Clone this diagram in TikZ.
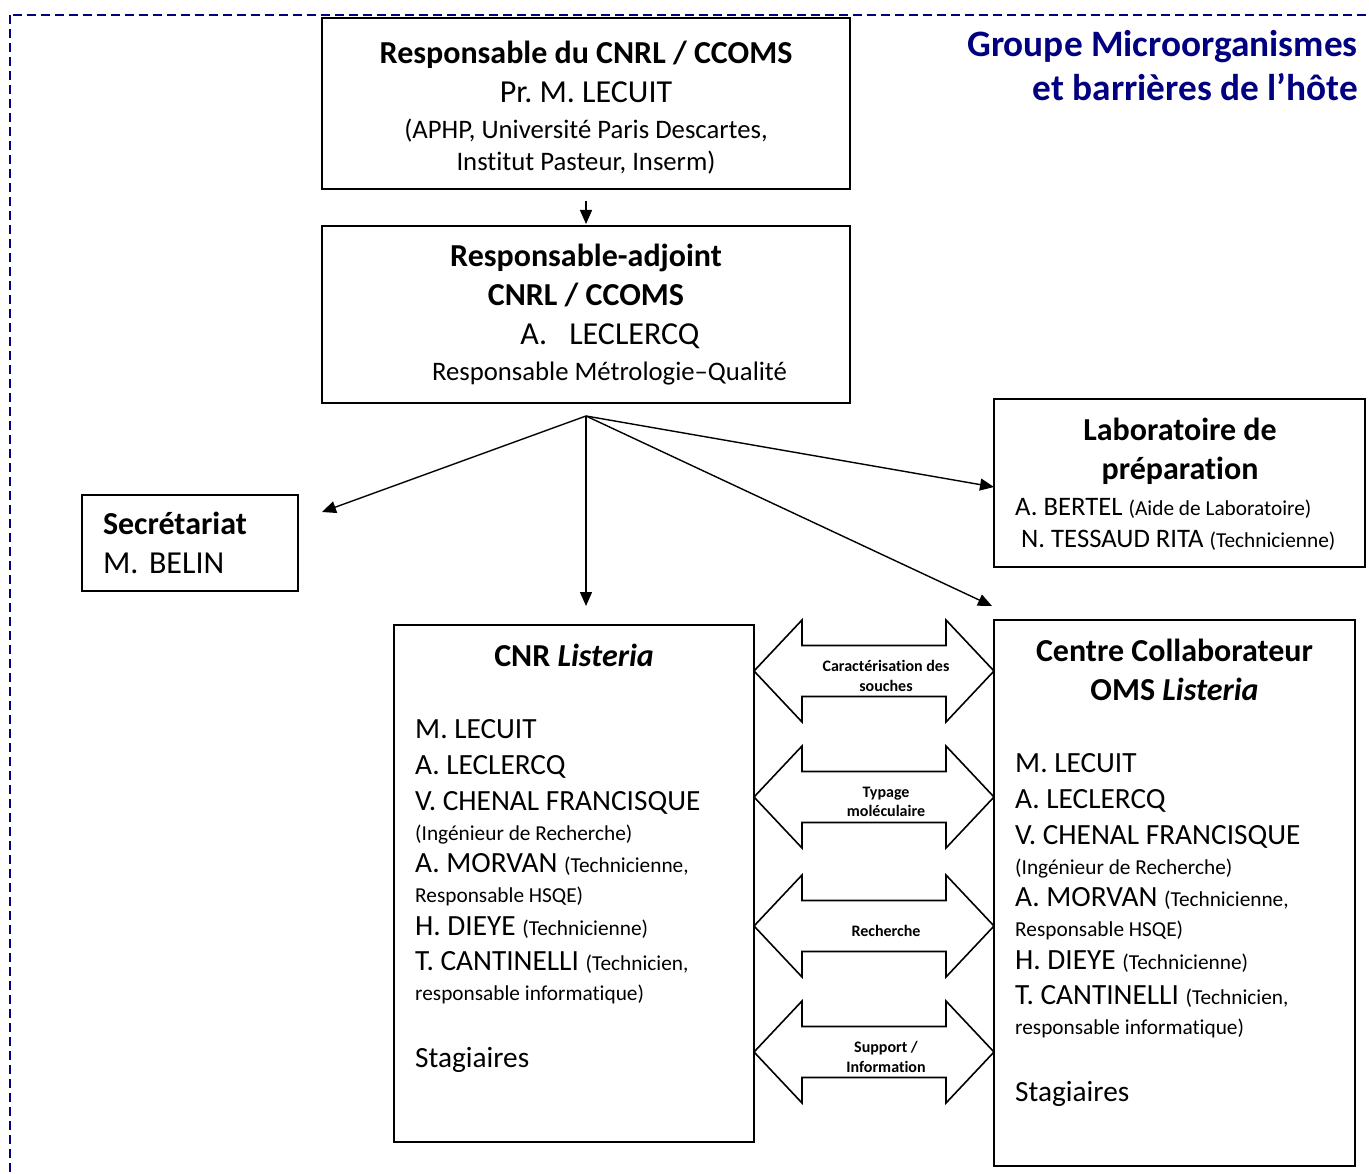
\documentclass[tikz,border=0pt]{standalone}
\usepackage{fontspec}
\setmainfont{Carlito}[Ligatures=NoCommon]
\frenchspacing
\usepackage{tikz}
\usetikzlibrary{arrows.meta}

\definecolor{navyblue}{RGB}{0,0,128}
\newcommand{\fstitle}{\fontsize{37.3}{44}\selectfont}
\newcommand{\fsbig}{\fontsize{32}{39}\selectfont}
\newcommand{\fsmid}{\fontsize{26.7}{32}\selectfont}
\newcommand{\fsname}{\fontsize{29.3}{33}\selectfont}
\newcommand{\fsnote}{\fontsize{21.3}{26}\selectfont}
\newcommand{\fstag}{\fontsize{16}{19.5}\selectfont}

\newcommand{\teamlist}{M. LECUIT\\[3pt]
A. LECLERCQ\\[3pt]
V. CHENAL FRANCISQUE\\[-3pt]
{\fsnote(Ingénieur de Recherche)}\\[-1pt]
A. MORVAN {\fsnote(Technicienne,}\\[-3pt]
{\fsnote Responsable HSQE)}\\
H. DIEYE {\fsnote(Technicienne)}\\[2pt]
T. CANTINELLI {\fsnote(Technicien,}\\[-3pt]
{\fsnote responsable informatique)}\\[34pt]
Stagiaires}

\newcommand{\twoway}[3]{%
\draw[blockarr] (cnr.east |- 0,#1) -- ++(48,-51) -- ++(0,25.5) -- ++(144,0) -- ++(0,-25.5)
  -- (cc.west |- 0,#1) -- ++(-48,51) -- ++(0,-25.5) -- ++(-144,0) -- ++(0,25.5) -- cycle;
\node[tag] (#2) at (886,#1+5) {#3};}

\begin{document}
\begin{tikzpicture}[x=1pt,y=-1pt,>={Triangle[length=14pt,width=12pt]},
  box/.style={draw,line width=1.6pt,inner sep=0pt,outer sep=0pt},
  txt/.style={inner sep=0pt},
  arrline/.style={->,line width=1.4pt},
  blockarr/.style={draw,line width=1.6pt,line join=miter},
  tag/.style={font=\fstag\bfseries,align=center,inner sep=0pt}]
\path[use as bounding box] (0,0) rectangle (1369,1174);
\clip (0,0) rectangle (1369,1174);

\draw[navyblue,line width=2pt,dash pattern=on 9pt off 5pt] (10,15) rectangle (1400,1200);
\node[txt,anchor=north east,align=right,font=\fstitle\bfseries,text=navyblue] (title) at (1358,30)
  {Groupe Microorganismes\\et barrières de l’hôte};

\node[box,minimum width=528pt,minimum height=171pt,align=center,font=\fsbig] (resp) at (586,103.5)
  {\textbf{Responsable du CNRL / CCOMS}\\Pr. M. LECUIT\\[-3pt]{\fsmid(APHP, Université Paris Descartes,}\\[-7pt]{\fsmid Institut Pasteur, Inserm)}\\[-43pt]\mbox{}};
\node[box,minimum width=528pt,minimum height=177pt,align=center,font=\fsbig] (adj) at (586,314.5)
  {\textbf{Responsable-adjoint}\\\textbf{CNRL / CCOMS}\\\hspace*{48pt}A.\hspace{22pt}LECLERCQ\\[-3pt]\hspace*{47pt}{\fsmid Responsable Métrologie–Qualité}};
\node[box,minimum width=216pt,minimum height=96pt,text width=174pt,inner xsep=21pt,align=left,font=\fsbig] (secr) at (190,543)
  {\textbf{Secrétariat}\\M. BELIN};

\node[box,minimum width=371pt,minimum height=168pt] (labo) at (1179.5,483) {};
\node[txt,anchor=north,align=center,font=\fsbig\bfseries] (labotitle) at (1180,418) {Laboratoire de\\préparation};
\node[txt,anchor=north west,align=left,font=\fontsize{26.7}{32}\selectfont] (labonames) at (1015,498)
  {A. BERTEL {\fsnote(Aide de Laboratoire)}\\\hspace*{6pt}N. TESSAUD RITA {\fsnote(Technicienne)}};

\node[box,minimum width=360pt,minimum height=517pt] (cnr) at (574,883.5) {};
\node[txt,anchor=base,font=\fsbig\bfseries] (cnrtitle) at (574,666) {CNR \textit{Listeria}};
\node[txt,anchor=north west,align=left,font=\fsname] (cnrteam) at (415,719.5) {\teamlist};

\node[box,minimum width=361pt,minimum height=546pt] (cc) at (1174.5,893) {};
\node[txt,anchor=north,align=center,font=\fsbig\bfseries] (cctitle) at (1174.5,639) {Centre Collaborateur\\OMS \textit{Listeria}};
\node[txt,anchor=north west,align=left,font=\fsname] (ccteam) at (1015,753.5) {\teamlist};

\twoway{671}{carac}{Caractérisation des\\souches}
\twoway{797}{typage}{Typage\\moléculaire}
\twoway{926}{rech}{Recherche}
\twoway{1052}{support}{Support /\\Information}

\coordinate (split) at (586,416);
\coordinate (toSecr) at (322,512);
\coordinate (toCnr) at (586,606);
\coordinate (toCc) at (992,606);
\coordinate (toLabo) at (labo.west |- 0,487);

\draw[arrline,shorten <=12pt,shorten >=2pt] (resp) -- (adj);
\path[arrline] (split) edge (toSecr) edge (toCnr) edge (toCc) edge (toLabo);

\end{tikzpicture}
\end{document}
